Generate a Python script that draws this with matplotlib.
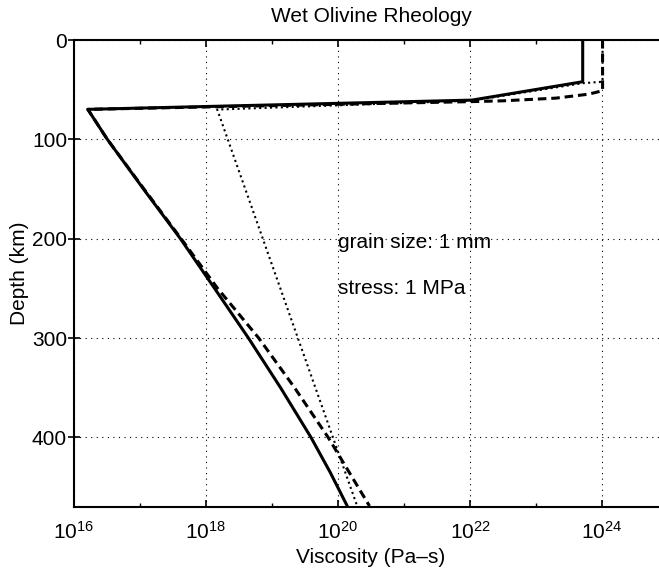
import numpy as np
import matplotlib
matplotlib.use('Agg')
import matplotlib.pyplot as plt
from matplotlib.ticker import NullFormatter

plt.rcParams['font.family'] = ['Liberation Sans', 'DejaVu Sans']
plt.rcParams['mathtext.fontset'] = 'custom'
plt.rcParams['mathtext.rm'] = 'Liberation Sans'

# values (depth in km, viscosity in Pa-s)
solid_depth = [0, 42, 60.5, 69.8, 100, 150, 200, 250, 300, 350, 400, 435, 469]
solid_visc = [5.1e23, 5.1e23, 1.07e22, 1.62e16, 3.2e16, 1.13e17, 4.1e17,
              1.35e18, 4.4e18, 1.35e19, 3.9e19, 7.6e19, 1.38e20]

dashed_depth = [0, 51, 54.5, 58.5, 61.2, 62, 69.8, 100, 150, 200, 250, 300,
                350, 400, 469]
dashed_visc = [1.02e24, 1.02e24, 6.3e23, 2.0e23, 3.2e22, 1.07e22, 1.62e16,
               3.2e16, 1.15e17, 4.2e17, 1.5e18, 6.3e18, 2.2e19, 7.1e19, 3.0e20]

dotted_depth = [0, 42, 43.5, 61, 70, 469]
dotted_visc = [1.02e24, 1.02e24, 5.1e23, 1.07e22, 1.48e18, 1.95e20]

xtick_vals = [1e16, 1e18, 1e20, 1e22, 1e24]
xtick_labels = [r'$\mathdefault{10^{16}}$', r'$\mathdefault{10^{18}}$',
                r'$\mathdefault{10^{20}}$', r'$\mathdefault{10^{22}}$',
                r'$\mathdefault{10^{24}}$']
xminor_vals = [1e17, 1e19, 1e21, 1e23]
ytick_vals = [0, 100, 200, 300, 400]

W, H = 659, 571
fig = plt.figure(figsize=(W / 100, H / 100), dpi=100)
# axes runs slightly past the right edge of the image, as in the original
ax = fig.add_axes([74 / W, 64 / H, (668 - 74) / W, (507 - 40) / H])

ax.plot(dotted_visc, dotted_depth, color='black', lw=1.5,
        linestyle=(0, (1, 1.6)))
ax.plot(dashed_visc, dashed_depth, color='black', lw=2.2,
        linestyle=(0, (2.8, 1.6)))
ax.plot(solid_visc, solid_depth, color='black', lw=2.2)

ax.set_xscale('log')
ax.set_xlim(1e16, 1e25)
ax.set_ylim(470, 0)

ax.set_xticks(xtick_vals)
ax.set_xticklabels(xtick_labels)
ax.set_xticks(xminor_vals, minor=True)
ax.xaxis.set_minor_formatter(NullFormatter())
ax.set_yticks(ytick_vals)

ax.grid(True, which='major', color='black', lw=0.8, linestyle=(0, (1, 4)))

ax.tick_params(axis='x', which='major', direction='in', length=5, width=1.2,
               top=True, labelsize=15, pad=10)
ax.tick_params(axis='x', which='minor', direction='in', length=3, width=1.0,
               top=True)
ax.tick_params(axis='y', which='major', direction='inout', length=9,
               width=1.2, labelsize=15, pad=0.5)

for s in ['left', 'top', 'bottom']:
    ax.spines[s].set_linewidth(1.5)
ax.spines['right'].set_visible(False)

ax.text(1e20, 209, 'grain size: 1 mm', fontsize=15, va='baseline')
ax.text(1e20, 256, 'stress: 1 MPa', fontsize=15, va='baseline')

ax.set_title('Wet Olivine Rheology', fontsize=15, pad=13)
ax.set_xlabel('Viscosity (Pa\u2013s)', fontsize=15, labelpad=4)
ax.set_ylabel('Depth (km)', fontsize=15, labelpad=2)

fig.savefig('out.png', dpi=100)
